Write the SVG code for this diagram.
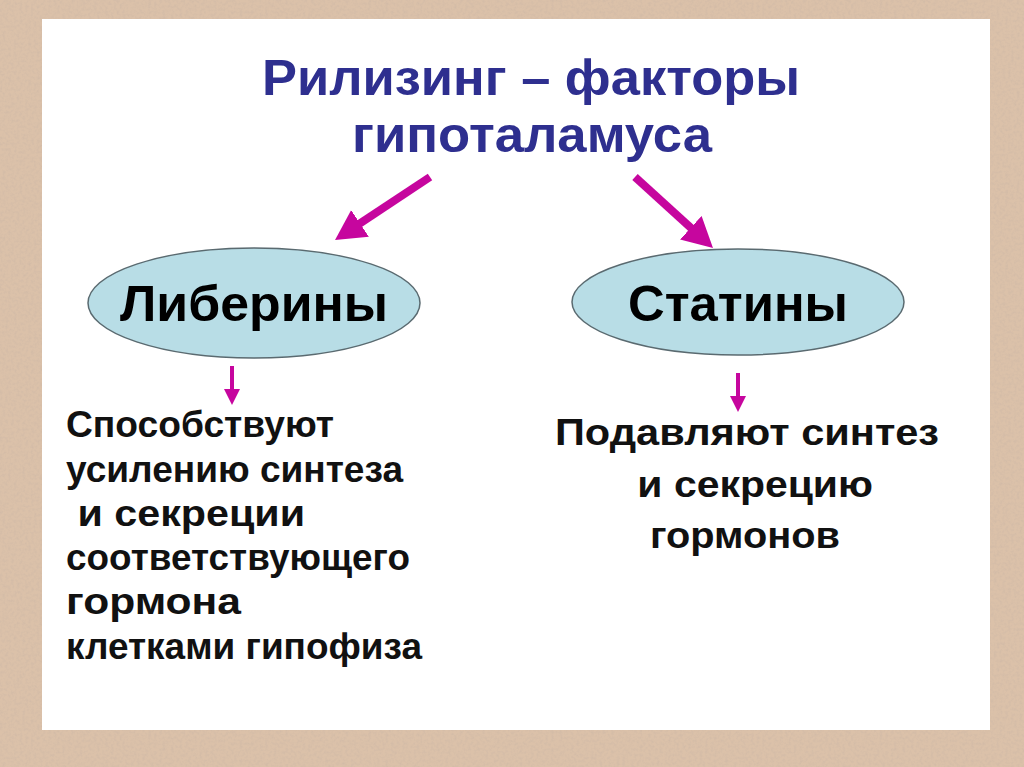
<svg xmlns="http://www.w3.org/2000/svg" width="1024" height="767" viewBox="0 0 1024 767">
  <defs>
    <filter id="tex" x="0" y="0" width="100%" height="100%">
      <feTurbulence type="fractalNoise" baseFrequency="0.35" numOctaves="3" seed="4" result="n"/>
      <feColorMatrix in="n" type="matrix" values="0 0 0 0 0.62  0 0 0 0 0.48  0 0 0 0 0.38  0 0 0 1.3 -0.5"/>
    </filter>
    <marker id="bigHead" markerUnits="userSpaceOnUse" markerWidth="36" markerHeight="36" refX="10" refY="16" orient="auto">
      <path d="M0,0 L30,16 L0,32 Z" fill="#c6069e"/>
    </marker>
    <marker id="smallHead" markerUnits="userSpaceOnUse" markerWidth="20" markerHeight="20" refX="6" refY="8" orient="auto">
      <path d="M0,0 L16,8 L0,16 Z" fill="#c6069e"/>
    </marker>
    <style>
      .title { font-family: "Liberation Sans", Arial, sans-serif; font-weight: bold; font-size: 50px; fill: #2e2f8f; }
      .oval { fill: #b8dde6; stroke: #5a6a70; stroke-width: 1.5; }
      .ovalText { font-family: "Liberation Sans", Arial, sans-serif; font-weight: bold; font-size: 50px; fill: #000; }
      .body { font-family: "Liberation Sans", Arial, sans-serif; font-weight: bold; font-size: 36px; fill: #111; }
      .big { stroke: #c6069e; stroke-width: 8; fill: none; }
      .small { stroke: #c6069e; stroke-width: 4; fill: none; }
    </style>
  </defs>

  <rect x="0" y="0" width="1024" height="767" fill="#dbc1a9"/>
  <rect x="0" y="0" width="1024" height="767" filter="url(#tex)"/>
  <rect x="42" y="19" width="948" height="711" fill="#ffffff"/>

  <g id="title">
    <text class="title" x="262" y="95" textLength="538" lengthAdjust="spacingAndGlyphs">Рилизинг – факторы</text>
    <text class="title" x="352" y="152" textLength="360" lengthAdjust="spacingAndGlyphs">гипоталамуса</text>
  </g>

  <g id="connectors">
    <line class="big" x1="430" y1="177" x2="351.7" y2="228.9" marker-end="url(#bigHead)"/>
    <line class="big" x1="635" y1="177" x2="698.2" y2="234.5" marker-end="url(#bigHead)"/>
    <line class="small" x1="232" y1="366" x2="232" y2="395" marker-end="url(#smallHead)"/>
    <line class="small" x1="738" y1="373" x2="738" y2="402" marker-end="url(#smallHead)"/>
  </g>

  <g id="liberiny">
    <ellipse class="oval" cx="254" cy="303" rx="166" ry="55"/>
    <text class="ovalText" x="120" y="321" textLength="268" lengthAdjust="spacingAndGlyphs">Либерины</text>
  </g>

  <g id="statiny">
    <ellipse class="oval" cx="738" cy="302" rx="166" ry="53"/>
    <text class="ovalText" x="628" y="321" textLength="220" lengthAdjust="spacingAndGlyphs">Статины</text>
  </g>

  <g id="liberiny-text">
    <text class="body" x="66" y="437" textLength="268" lengthAdjust="spacingAndGlyphs">Способствуют</text>
    <text class="body" x="66" y="482" textLength="337" lengthAdjust="spacingAndGlyphs">усилению синтеза</text>
    <text class="body" x="66" y="526" textLength="239" lengthAdjust="spacingAndGlyphs" xml:space="preserve"> и секреции</text>
    <text class="body" x="66" y="570" textLength="344" lengthAdjust="spacingAndGlyphs">соответствующего</text>
    <text class="body" x="66" y="614" textLength="175" lengthAdjust="spacingAndGlyphs">гормона</text>
    <text class="body" x="66" y="659" textLength="356" lengthAdjust="spacingAndGlyphs">клетками гипофиза</text>
  </g>

  <g id="statiny-text">
    <text class="body" x="555" y="445" textLength="384" lengthAdjust="spacingAndGlyphs">Подавляют синтез</text>
    <text class="body" x="626" y="497" textLength="247" lengthAdjust="spacingAndGlyphs" xml:space="preserve"> и секрецию</text>
    <text class="body" x="650" y="548" textLength="190" lengthAdjust="spacingAndGlyphs">гормонов</text>
  </g>
</svg>
